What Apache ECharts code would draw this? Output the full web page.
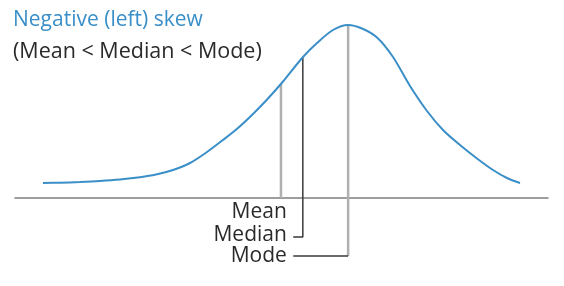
<!DOCTYPE html>
<html>
<head>
<meta charset="utf-8">
<script src="https://cdn.jsdelivr.net/npm/echarts@6/dist/echarts.min.js"></script>
<style>
html,body{margin:0;padding:0;background:#fff;}
#c{width:564px;height:286px;}
</style>
</head>
<body>
<div id="c"></div>
<script>
// Skewed distribution curve (x in arbitrary units 0..100, density scaled so peak = 100)
const curveX = [5.25, 8.44, 12.20, 15.95, 19.70, 23.45, 26.45, 29.64, 32.83, 36.02, 39.02, 41.84, 44.65, 47.47, 50.28, 54.03, 56.66, 59.66, 62.48, 65.10, 67.92, 70.92, 74.11, 77.30, 80.30, 83.49, 86.68, 89.68, 92.31, 94.75];
const curveY = [8.67, 8.84, 9.25, 9.83, 10.69, 11.97, 13.53, 16.18, 20.23, 26.59, 33.53, 40.46, 48.55, 57.51, 67.34, 81.50, 89.60, 97.11, 100, 97.98, 92.77, 81.50, 64.74, 50.29, 39.31, 30.64, 22.83, 16.18, 11.56, 8.67];

// Statistic positions (x), top of each marker (curve height), bottom of each marker
const statNames = ['Mean', 'Median', 'Mode'];
const statX = [49.9, 54.0, 62.5];
const statTop = [65.9, 81.5, 100];
const statBottom = [0, -22.5, -33.5];
const labelY = [-8.1, -21.4, -33.3];
const labelX = 51.0;
const leaderX = 52.2;

const titleText = 'Negative (left) skew';
const subtitleText = '(Mean < Median < Mode)';

const chart = echarts.init(document.getElementById('c'));
const grey = '#b0b0b0';
const dark = '#3a3a3a';
const font = '"Open Sans", sans-serif';

const series = [];
series.push({
  type: 'line',
  data: curveX.map((x, i) => [x, curveY[i]]),
  smooth: 0.3,
  symbol: 'none',
  lineStyle: { color: '#3b8fc8', width: 2 },
  z: 5
});
// Mean marker (grey)
series.push({
  type: 'line', symbol: 'none',
  data: [[statX[0], statBottom[0]], [statX[0], statTop[0]]],
  lineStyle: { color: grey, width: 2.5 }, z: 3
});
// Median marker (dark) with leader
series.push({
  type: 'line', symbol: 'none',
  data: [[leaderX, statBottom[1]], [statX[1], statBottom[1]], [statX[1], statTop[1]]],
  lineStyle: { color: dark, width: 1.5 }, z: 3
});
// Mode marker vertical (grey) and leader (dark)
series.push({
  type: 'line', symbol: 'none',
  data: [[statX[2], statBottom[2]], [statX[2], statTop[2]]],
  lineStyle: { color: grey, width: 2.5 }, z: 3
});
series.push({
  type: 'line', symbol: 'none',
  data: [[leaderX, statBottom[2]], [statX[2], statBottom[2]]],
  lineStyle: { color: dark, width: 1.5 }, z: 4
});
// Labels
series.push({
  type: 'scatter',
  symbolSize: 0,
  itemStyle: { opacity: 1 },
  data: statNames.map((n, i) => ({ value: [labelX, labelY[i]], name: n })),
  label: {
    show: true, position: 'left', distance: 0,
    formatter: p => p.name,
    color: '#2a2a2a', fontSize: 21, fontFamily: font
  },
  silent: true, z: 6
});

chart.setOption({
  animation: false,
  backgroundColor: '#ffffff',
  title: [
    { text: titleText, left: 8, top: 5, textStyle: { color: '#3b8fc8', fontSize: 21, fontWeight: 'normal', fontFamily: font } },
    { text: subtitleText, left: 8, top: 36, textStyle: { color: '#2a2a2a', fontSize: 21.5, fontWeight: 'normal', fontFamily: font } }
  ],
  grid: { left: 15, right: 16, top: 25, bottom: 1.5 },
  xAxis: {
    type: 'value', min: 0, max: 100,
    axisLine: { show: true, onZero: true, lineStyle: { color: '#7f7f7f', width: 1.5 } },
    axisTick: { show: false }, axisLabel: { show: false }, splitLine: { show: false }
  },
  yAxis: {
    type: 'value', min: -50, max: 100, show: false,
    splitLine: { show: false }
  },
  series: series
});
</script>
</body>
</html>
